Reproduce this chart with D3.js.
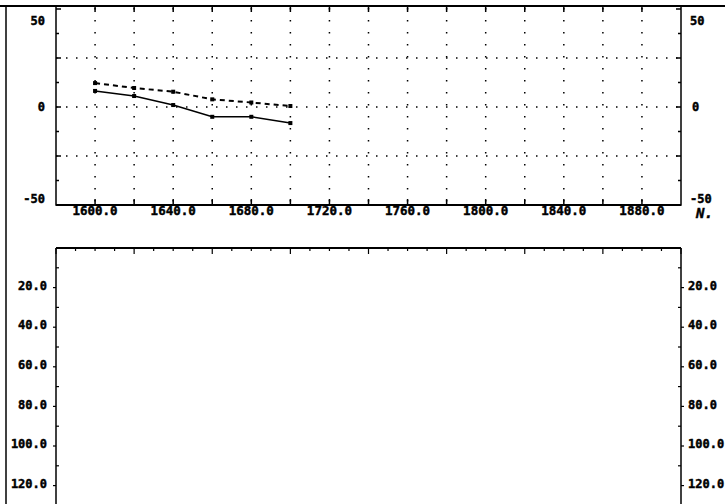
<!DOCTYPE html>
<html><head><meta charset="utf-8">
<script src="https://cdn.jsdelivr.net/npm/d3@7"></script>
<style>
html,body{margin:0;padding:0;background:#fff;overflow:hidden}
svg text{font-family:"DejaVu Sans Mono",monospace;font-weight:bold;fill:#000;stroke:#000;stroke-width:0.45px}
</style></head><body>
<svg id="c" width="725" height="504"></svg>
<script>
// ---- data ----
const years = [1600, 1620, 1640, 1660, 1680, 1700];
const seriesSolid = [8.2, 5.6, 1.0, -5.0, -5.0, -8.2];
const seriesDashed = [12.2, 9.7, 7.8, 3.9, 2.3, 0.5];
const topYTicks = [50, 0, -50];
const topXTicks = [1600, 1640, 1680, 1720, 1760, 1800, 1840, 1880];
const bottomYTicks = [20, 40, 60, 80, 100, 120];
const axisLabel = "N.";

const svg = d3.select("#c");
const L = 56, R = 681;

// outer frame lines
svg.append("line").attr("x1",0).attr("x2",725).attr("y1",6).attr("y2",6).attr("stroke","#000").attr("stroke-width",2);
svg.append("line").attr("x1",6).attr("x2",6).attr("y1",6).attr("y2",504).attr("stroke","#000").attr("stroke-width",1.5);

// ---- top chart ----
const x = d3.scaleLinear().domain([1580, 1900]).range([L, R]);
const y = d3.scaleLinear().domain([-50, 50]).range([205, 9]);
const g = svg.append("g");

// grid
const gridX = d3.range(1600, 1900, 20);
g.selectAll(".vg").data(gridX).join("line")
  .attr("x1", d=>x(d)).attr("x2", d=>x(d)).attr("y1", 8).attr("y2", 205)
  .attr("stroke","#000").attr("stroke-width",1.5).attr("stroke-dasharray","1.5,10.5");
g.selectAll(".hg").data([25, 0, -25]).join("line")
  .attr("x1", L).attr("x2", R).attr("y1", d=>y(d)).attr("y2", d=>y(d))
  .attr("stroke","#000").attr("stroke-width",1.5).attr("stroke-dasharray","1.5,8.5");

// frame
g.append("rect").attr("x",L).attr("y",6).attr("width",R-L).attr("height",205-6)
  .attr("fill","none").attr("stroke","#000").attr("stroke-width",1.5);
g.append("line").attr("x1",L).attr("x2",R).attr("y1",205).attr("y2",205).attr("stroke","#000").attr("stroke-width",2);

// x ticks (top & bottom)
g.selectAll(".xtt").data(gridX).join("line")
  .attr("x1", d=>x(d)).attr("x2", d=>x(d)).attr("y1", 6).attr("y2", 12).attr("stroke","#000").attr("stroke-width",1.5);
g.selectAll(".xtb").data(gridX).join("line")
  .attr("x1", d=>x(d)).attr("x2", d=>x(d)).attr("y1", 205).attr("y2", 199).attr("stroke","#000").attr("stroke-width",1.5);
// y ticks
const yMinor = d3.range(-50, 51, 12.5);
g.selectAll(".ytl").data(yMinor).join("line")
  .attr("x1", L).attr("x2", d=> (d%25===0)?L+5:L+3).attr("y1", d=>y(d)).attr("y2", d=>y(d)).attr("stroke","#000").attr("stroke-width",1.5);
g.selectAll(".ytr").data(yMinor).join("line")
  .attr("x1", R).attr("x2", d=> (d%25===0)?R-5:R-3).attr("y1", d=>y(d)).attr("y2", d=>y(d)).attr("stroke","#000").attr("stroke-width",1.5);

// y labels
const labY = d => d===50 ? y(d)+12 : (d===-50 ? y(d)-6 : y(d));
g.selectAll(".yl").data(topYTicks).join("text")
  .attr("x", 45).attr("y", d=>labY(d)).attr("dy","0.35em").attr("text-anchor","end")
  .attr("font-size","12px").text(d=>d);
g.selectAll(".yr").data(topYTicks).join("text")
  .attr("x", d=> d===0?692:690).attr("y", d=>labY(d)).attr("dy","0.35em").attr("text-anchor","start")
  .attr("font-size","12px").text(d=>d);
// x labels
g.selectAll(".xl").data(topXTicks).join("text")
  .attr("x", d=>x(d)).attr("y", 215).attr("text-anchor","middle")
  .attr("font-size","12.5px").text(d=>d.toFixed(1));
g.append("text").attr("x",696).attr("y",218).attr("font-size","14px")
  .attr("font-style","italic").text(axisLabel);

// lines
const line = d3.line().x((d,i)=>x(years[i])).y(d=>y(d));
g.append("path").datum(seriesSolid).attr("d", line).attr("fill","none").attr("stroke","#000").attr("stroke-width",1.6);
g.append("path").datum(seriesDashed).attr("d", line).attr("fill","none").attr("stroke","#000").attr("stroke-width",2).attr("stroke-dasharray","5,4");
[seriesSolid, seriesDashed].forEach(s=>{
  g.selectAll(null).data(s).join("rect")
    .attr("x",(d,i)=>x(years[i])-2).attr("y",d=>y(d)-2).attr("width",4).attr("height",4).attr("fill","#000");
});

// ---- bottom chart ----
const y2 = d3.scaleLinear().domain([0, 130]).range([248, 505.4]);
const b = svg.append("g");
b.append("line").attr("x1",L).attr("x2",R).attr("y1",248).attr("y2",248).attr("stroke","#000").attr("stroke-width",2);
b.append("line").attr("x1",L).attr("x2",L).attr("y1",248).attr("y2",504).attr("stroke","#000").attr("stroke-width",1.5);
b.append("line").attr("x1",R).attr("x2",R).attr("y1",248).attr("y2",504).attr("stroke","#000").attr("stroke-width",1.5);
const xMinor = d3.range(1580, 1901, 10);
b.selectAll(".bt").data(xMinor).join("line")
  .attr("x1", d=>x(d)).attr("x2", d=>x(d)).attr("y1", 248).attr("y2", d=> (d%40===20)?254:251)
  .attr("stroke","#000").attr("stroke-width",1.2);
const y2Minor = d3.range(10, 131, 10);
b.selectAll(".blt").data(y2Minor).join("line")
  .attr("x1", d=> (d%20===0)?L-3:L).attr("x2", d=> (d%20===0)?L:L+3).attr("y1", d=>y2(d)).attr("y2", d=>y2(d))
  .attr("stroke","#000").attr("stroke-width",1.2);
b.selectAll(".brt").data(y2Minor).join("line")
  .attr("x1", d=> (d%20===0)?R+3:R).attr("x2", d=> (d%20===0)?R:R-3).attr("y1", d=>y2(d)).attr("y2", d=>y2(d))
  .attr("stroke","#000").attr("stroke-width",1.2);
b.selectAll(".byl").data(bottomYTicks).join("text")
  .attr("x", 47).attr("y", d=>y2(d)-2).attr("dy","0.35em").attr("text-anchor","end")
  .attr("font-size","12px").text(d=>d.toFixed(1));
b.selectAll(".byr").data(bottomYTicks).join("text")
  .attr("x", 688).attr("y", d=>y2(d)-2).attr("dy","0.35em").attr("text-anchor","start")
  .attr("font-size","12px").text(d=>d.toFixed(1));
</script>
</body></html>
